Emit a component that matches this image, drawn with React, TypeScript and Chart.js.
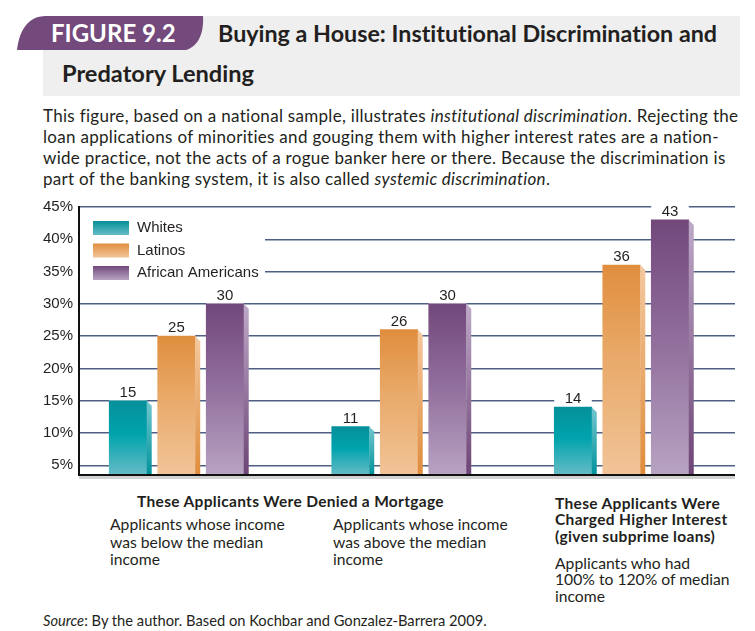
import React, { useEffect, useRef } from 'react';
import { Chart, registerables } from 'chart.js';

Chart.register(...registerables);

// ---------- data ----------
const categories = [
  'Denied a mortgage: income below the median',
  'Denied a mortgage: income above the median',
  'Charged higher interest: 100% to 120% of median income',
];
const seriesNames = ['Whites', 'Latinos', 'African Americans'];
const whites = [15, 11, 14];
const latinos = [25, 26, 36];
const africanAmericans = [30, 30, 43];
const yTicks = [5, 10, 15, 20, 25, 30, 35, 40, 45];

// ---------- styles ----------
const palettes = [
  { front: ['#05909a', '#00a3ad', '#66bcc6'], side: ['#74c7cf', '#00929b'] },
  { front: ['#e08e3e', '#e9aa6a', '#f1c498'], side: ['#f4c9a0', '#df8c3b'] },
  { front: ['#72487b', '#8f6c9a', '#b8a3c2'], side: ['#bea9c8', '#6d4476'] },
];
const INK = '#231f20';
const TICK_FONT = '"Liberation Sans", Arial, sans-serif';
const TEXT_FONT = 'Lato, "Noto Sans", sans-serif';

const frontFill = (p: any) => (ctx: any) => {
  const chart = ctx.chart;
  const area = chart.chartArea;
  if (!area || ctx.type !== 'data' || !ctx.parsed) return p.front[1];
  const top = chart.scales.y.getPixelForValue(ctx.parsed.y);
  const g = chart.ctx.createLinearGradient(0, top, 0, area.bottom);
  g.addColorStop(0, p.front[0]);
  g.addColorStop(0.45, p.front[1]);
  g.addColorStop(1, p.front[2]);
  return g;
};

const decorPlugin = {
  id: 'decor',
  beforeDatasetsDraw(chart: any) {
    const { ctx, chartArea: a } = chart;
    ctx.save();
    ctx.fillStyle = '#ffffff';
    // legend backdrop hides the grid lines behind it
    ctx.fillRect(a.left + 1, a.top + 6, 185, 73);
    // label backdrops
    chart.data.datasets.forEach((_ds: any, i: number) => {
      chart.getDatasetMeta(i).data.forEach((bar: any) => {
        const { x, y, width } = bar.getProps(['x', 'y', 'width'], true);
        ctx.fillRect(x - width / 2, y - 20, width, 20);
      });
    });
    ctx.restore();
  },
  afterDatasetsDraw(chart: any) {
    const { ctx, chartArea: a } = chart;
    ctx.save();
    chart.data.datasets.forEach((ds: any, i: number) => {
      const p = palettes[i];
      chart.getDatasetMeta(i).data.forEach((bar: any, j: number) => {
        const { x, y, width, base } = bar.getProps(['x', 'y', 'width', 'base'], true);
        const bottom = Math.min(base, a.bottom);
        const r = x + width / 2;
        const d = 5;
        const g = ctx.createLinearGradient(0, y, 0, bottom);
        g.addColorStop(0, p.side[0]);
        g.addColorStop(1, p.side[1]);
        ctx.fillStyle = g;
        ctx.beginPath();
        ctx.moveTo(r, y);
        ctx.lineTo(r + d, y + d);
        ctx.lineTo(r + d, bottom);
        ctx.lineTo(r, bottom);
        ctx.closePath();
        ctx.fill();
        // value label
        ctx.fillStyle = INK;
        ctx.font = '15px ' + TICK_FONT;
        ctx.textAlign = 'center';
        ctx.textBaseline = 'alphabetic';
        ctx.fillText(String(ds.data[j].y), x, y - 4);
      });
    });
    // legend
    const lx = a.left + 14;
    chart.data.datasets.forEach((ds: any, i: number) => {
      const p = palettes[i];
      const top = a.top + 14 + i * 22.5;
      const g = ctx.createLinearGradient(0, top, 0, top + 14);
      g.addColorStop(0, p.front[0]);
      g.addColorStop(1, p.front[2]);
      ctx.fillStyle = g;
      ctx.fillRect(lx, top, 36, 14);
      ctx.fillStyle = INK;
      ctx.font = '15px ' + TICK_FONT;
      ctx.textAlign = 'left';
      ctx.textBaseline = 'middle';
      ctx.fillText(ds.label, lx + 44, top + 7);
    });
    // bottom axis line with its soft shadow
    ctx.fillStyle = '#d2d2d2';
    ctx.fillRect(a.left, a.bottom + 1, a.right - a.left, 3);
    ctx.strokeStyle = '#111111';
    ctx.lineWidth = 2;
    ctx.beginPath();
    ctx.moveTo(a.left - 1, a.bottom);
    ctx.lineTo(a.right, a.bottom);
    ctx.stroke();
    ctx.restore();
  },
};

function BarChart() {
  const ref = useRef<HTMLCanvasElement>(null);
  useEffect(() => {
    if (!ref.current) return;
    const series = [whites, latinos, africanAmericans];
    const chart = new Chart(ref.current, {
      type: 'bar',
      data: {
        datasets: series.map((vals, i) => ({
          label: seriesNames[i],
          data: vals.map((v, k) => ({ x: k, y: v, category: categories[k] })),
          backgroundColor: frontFill(palettes[i]),
          borderWidth: 0,
          barThickness: 48.5,
          maxBarThickness: 37.5,
        })),
      },
      options: {
        responsive: false,
        animation: false,
        events: [],
        layout: { padding: { left: 0, right: 20, top: 17, bottom: 8 } },
        plugins: { legend: { display: false }, tooltip: { enabled: false }, title: { display: false } },
        scales: {
          x: {
            type: 'linear',
            display: false,
            offset: false,
            grace: 0,
            min: -0.438,
            max: 2.51,
            afterBuildTicks: (s: any) => {
              s.ticks = categories.map((_c, k) => ({ value: k }));
            },
          },
          y: {
            type: 'linear',
            min: 3.5,
            max: 45,
            afterBuildTicks: (s: any) => {
              s.ticks = yTicks.map((v) => ({ value: v }));
            },
            afterFit: (s: any) => {
              s.width = 79;
            },
            ticks: {
              callback: (v: any) => v + '%',
              color: INK,
              padding: 6,
              font: { family: TICK_FONT, size: 15 },
            },
            grid: { color: '#4f6085', lineWidth: 1.5, drawTicks: false },
            border: { display: true, color: '#111111', width: 2 },
          },
        },
      },
      plugins: [decorPlugin],
    } as any);
    return () => chart.destroy();
  }, []);
  return (
    <canvas
      ref={ref}
      width={755}
      height={300}
      style={{ position: 'absolute', left: 0, top: 190, width: 755, height: 300 }}
    />
  );
}

const abs = (left: number, top: number, extra: any = {}) => ({
  position: 'absolute' as const,
  left,
  top,
  whiteSpace: 'pre' as const,
  fontVariantLigatures: 'none',
  ...extra,
});

export default function App() {
  const para = { fontSize: 17, letterSpacing: '0.3px', lineHeight: '21px', color: INK, fontFamily: TEXT_FONT };
  const lab = { fontSize: 15.7, letterSpacing: '0px', lineHeight: '17.5px', color: INK, fontFamily: TEXT_FONT };
  const head = { fontSize: 15.5, letterSpacing: '0.32px', lineHeight: '16.5px', fontWeight: 700, color: INK, fontFamily: TEXT_FONT };
  return (
    <div
      style={{
        position: 'absolute',
        left: 0,
        top: 0,
        width: 755,
        height: 631,
        overflow: 'hidden',
        background: '#ffffff',
        fontFamily: TEXT_FONT,
        color: INK,
      }}
    >
      <div style={{ position: 'absolute', left: 43, top: 16, width: 697, height: 80, background: '#efefef' }} />
      <svg width={220} height={60} style={{ position: 'absolute', left: 0, top: 0 }}>
        <path d="M17,50 C19,32 27,16 46,16 L203,16 C204,32 199,46 186,50 Z" fill="#744a7c" />
      </svg>
      <div style={abs(51, 16, { height: 34, lineHeight: '34px', fontSize: 24, fontWeight: 700, color: '#ffffff' })}>
        FIGURE 9.2
      </div>
      <div style={abs(218, 16, { lineHeight: '34px', fontSize: 23.3, fontWeight: 700, color: INK })}>
        Buying a House: Institutional Discrimination and
      </div>
      <div style={abs(62, 56, { lineHeight: '34px', fontSize: 23.6, fontWeight: 700, color: INK })}>
        Predatory Lending
      </div>

      <div style={abs(43, 104.5, para)}>
        <div>
          This figure, based on a national sample, illustrates <i>institutional discrimination</i>. Rejecting the
        </div>
        <div>loan applications of minorities and gouging them with higher interest rates are a nation-</div>
        <div>wide practice, not the acts of a rogue banker here or there. Because the discrimination is</div>
        <div>
          part of the banking system, it is also called <i>systemic discrimination</i>.
        </div>
      </div>

      <BarChart />

      <div style={abs(137, 493, head)}>These Applicants Were Denied a Mortgage</div>
      <div style={abs(110, 516, lab)}>
        <div>Applicants whose income</div>
        <div>was below the median</div>
        <div>income</div>
      </div>
      <div style={abs(333, 516, lab)}>
        <div>Applicants whose income</div>
        <div>was above the median</div>
        <div>income</div>
      </div>
      <div style={abs(555, 494.5, head)}>
        <div>These Applicants Were</div>
        <div>Charged Higher Interest</div>
        <div>(given subprime loans)</div>
      </div>
      <div style={abs(555, 554.5, { ...lab, lineHeight: '16.5px' })}>
        <div>Applicants who had</div>
        <div>100% to 120% of median</div>
        <div>income</div>
      </div>
      <div style={abs(43, 611, { fontSize: 14.7, lineHeight: '18px', color: INK, fontFamily: TEXT_FONT })}>
        <i>Source</i>: By the author. Based on Kochbar and Gonzalez-Barrera 2009.
      </div>
    </div>
  );
}
